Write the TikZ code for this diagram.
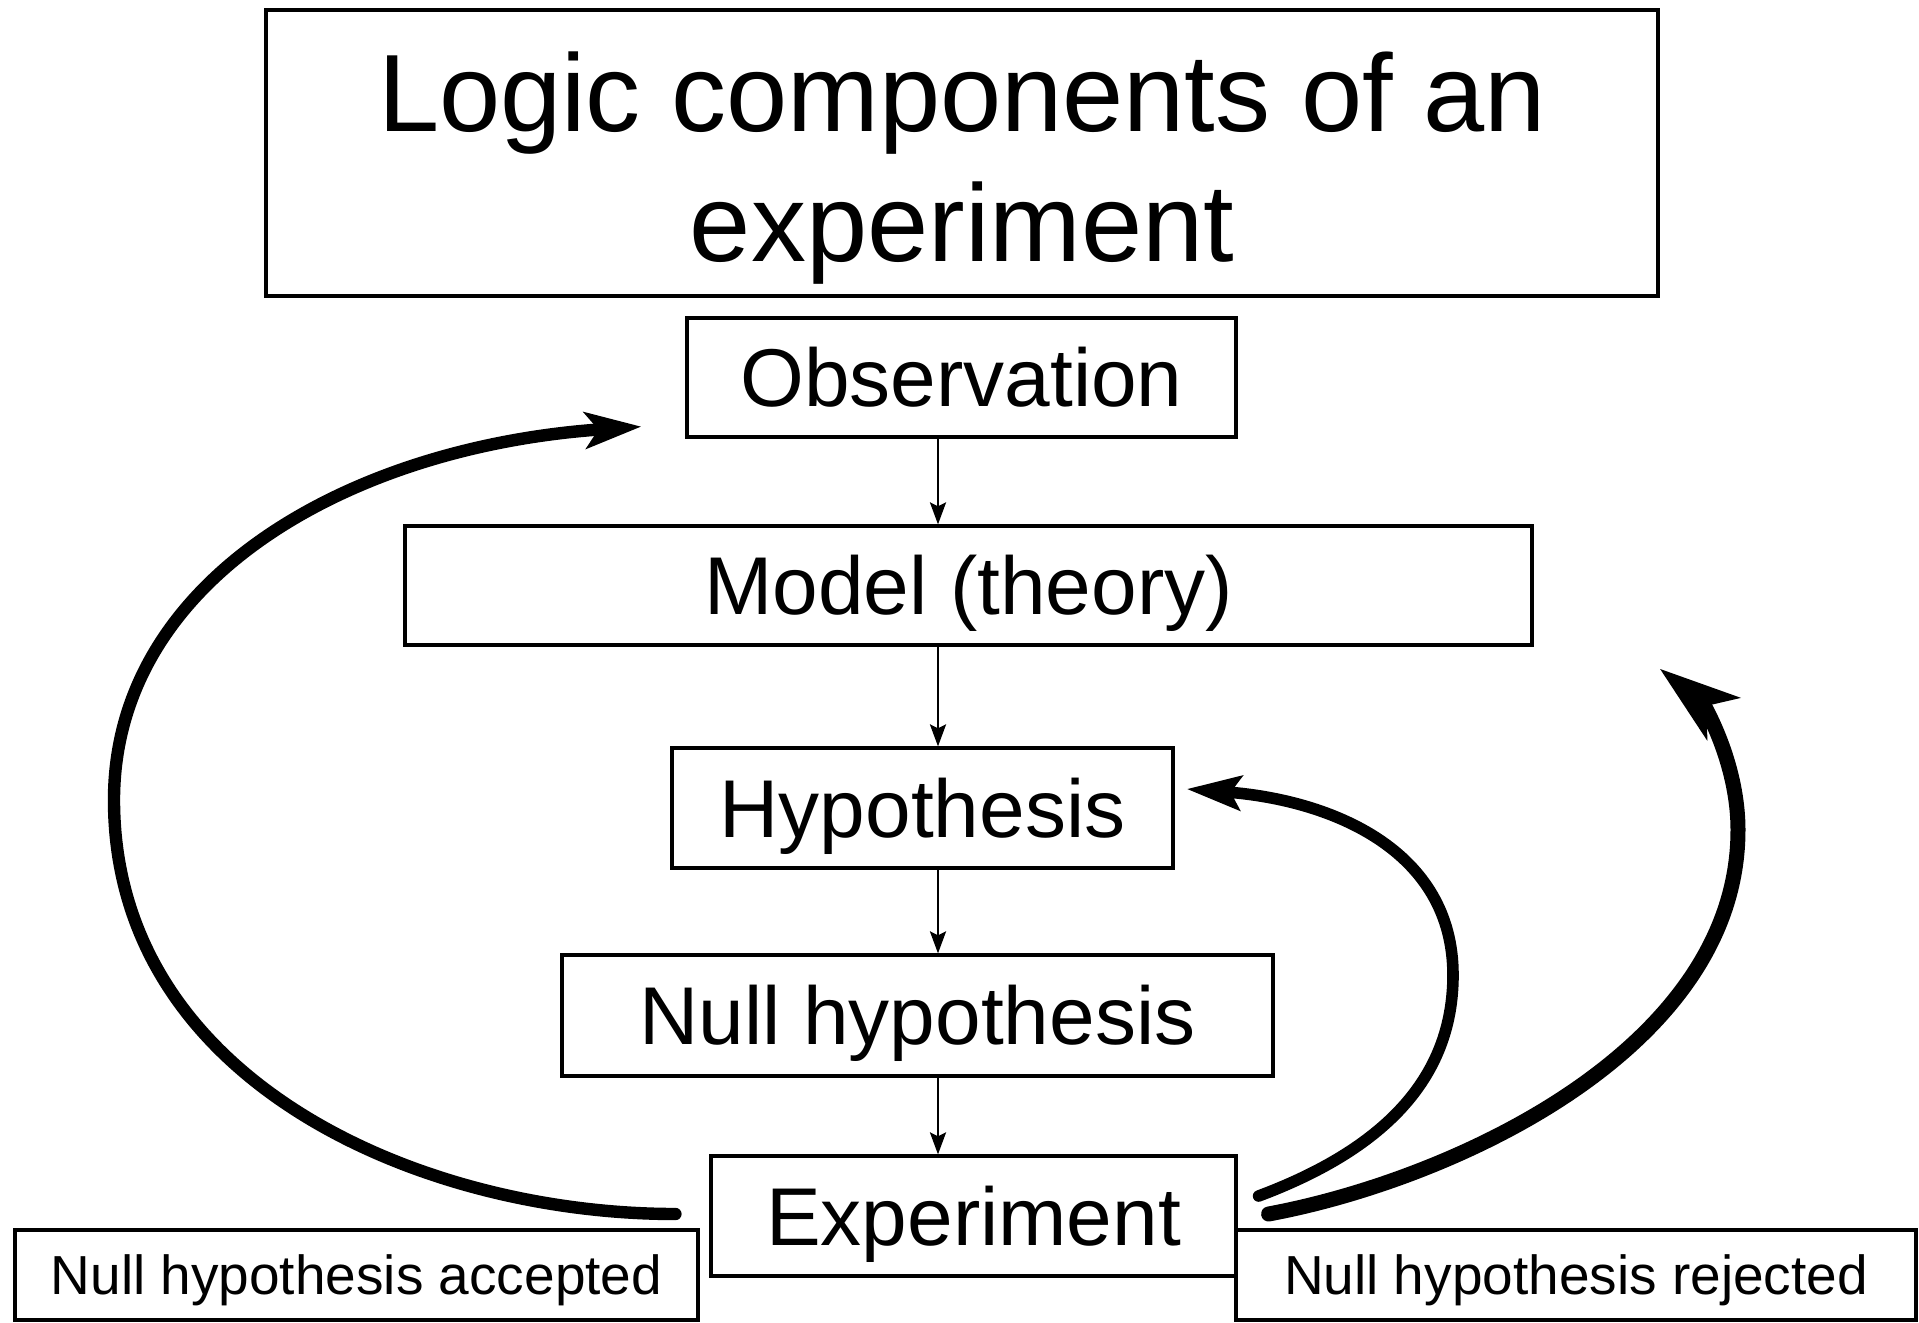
\documentclass[tikz,border=0pt]{standalone}
\usepackage{fontspec}
\setmainfont{Liberation Sans}
\usetikzlibrary{arrows.meta,calc}

\begin{document}
\begin{tikzpicture}[x=0.5pt,y=0.5pt,
  box/.style={draw,line width=1.6pt,inner sep=0pt,
    font=\fontsize{41}{49}\selectfont,text height=29.4pt,text depth=0pt},
  smallbox/.style={draw,line width=1.6pt,inner sep=0pt,
    font=\fontsize{27.5}{33}\selectfont,text height=19.7pt,text depth=0pt},
  titlebox/.style={draw,line width=1.6pt,inner sep=0pt,align=center,
    font=\fontsize{55}{65}\selectfont},
  flow/.style={line width=1.4pt,-{Stealth[length=11pt,width=8pt,inset=2pt]}},
  loop/.style={line cap=round,line join=round}
]
\useasboundingbox (0,0) rectangle (1919,-1323);
\fill[white] (0,0) rectangle (1919,-1323);

% title and the chain of steps
\node[titlebox,minimum width=696pt,minimum height=143pt] (title) at (962,-153)
  {\rule{0pt}{54.5pt}Logic components of an\\experiment};
\node[box,minimum width=274.5pt,minimum height=59.5pt] (obs)   at (961.5,-377.5) {Observation};
\node[box,minimum width=563.5pt,minimum height=59.5pt] (model) at (968.5,-585.5) {Model (theory)};
\node[box,minimum width=250.5pt,minimum height=60pt]   (hyp)   at (922.5,-808)   {Hypothesis};
\node[box,minimum width=355.5pt,minimum height=60.5pt] (null)  at (917.5,-1015.5) {Null hypothesis};
\node[box,minimum width=262.5pt,minimum height=60pt]   (exp)   at (973.5,-1216)  {Experiment};

% outcome labels
\node[smallbox,minimum width=341.5pt,minimum height=45pt] (acc) at (356.5,-1275) {Null hypothesis accepted};
\node[smallbox,minimum width=340pt,minimum height=45pt]   (rej) at (1576,-1275)  {Null hypothesis rejected};

% vertical flow arrows share one x position
\coordinate (ax) at (938,0);
\draw[flow] (obs.south -| ax)   -- (model.north -| ax);
\draw[flow] (model.south -| ax) -- (hyp.north -| ax);
\draw[flow] (hyp.south -| ax)   -- (null.north -| ax);
\draw[flow] (null.south -| ax)  -- (exp.north -| ax);

% feedback loops
\draw[loop,line width=6.2pt,-{Stealth[length=28pt,width=18pt,inset=6.5pt]}]
  ($(exp.west)+(-34,2)$) .. controls +(-257,0) and +(0,-280) .. (114,-800)
  .. controls +(0,220) and +(-293,-20) .. ($(obs.south west)+(-44,12)$);
\draw[loop,line width=5.8pt,-{Stealth[length=27pt,width=17pt,inset=5pt]}]
  ($(exp.east)+(21,20)$) .. controls +(123,46) and +(0,-105) .. (1453,-975)
  .. controls +(0,125) and +(145,-11) .. ($(hyp.east)+(12,19)$);
\draw[loop,line width=7.5pt,-{Stealth[length=40pt,width=26pt,inset=10pt]}]
  ($(exp.east)+(31,2)$) .. controls +(183,34) and +(0,-220) .. (1738,-830)
  .. controls +(0,70) and +(42,-33) .. ($(model.south east)+(126,-22)$);
\end{tikzpicture}
\end{document}
